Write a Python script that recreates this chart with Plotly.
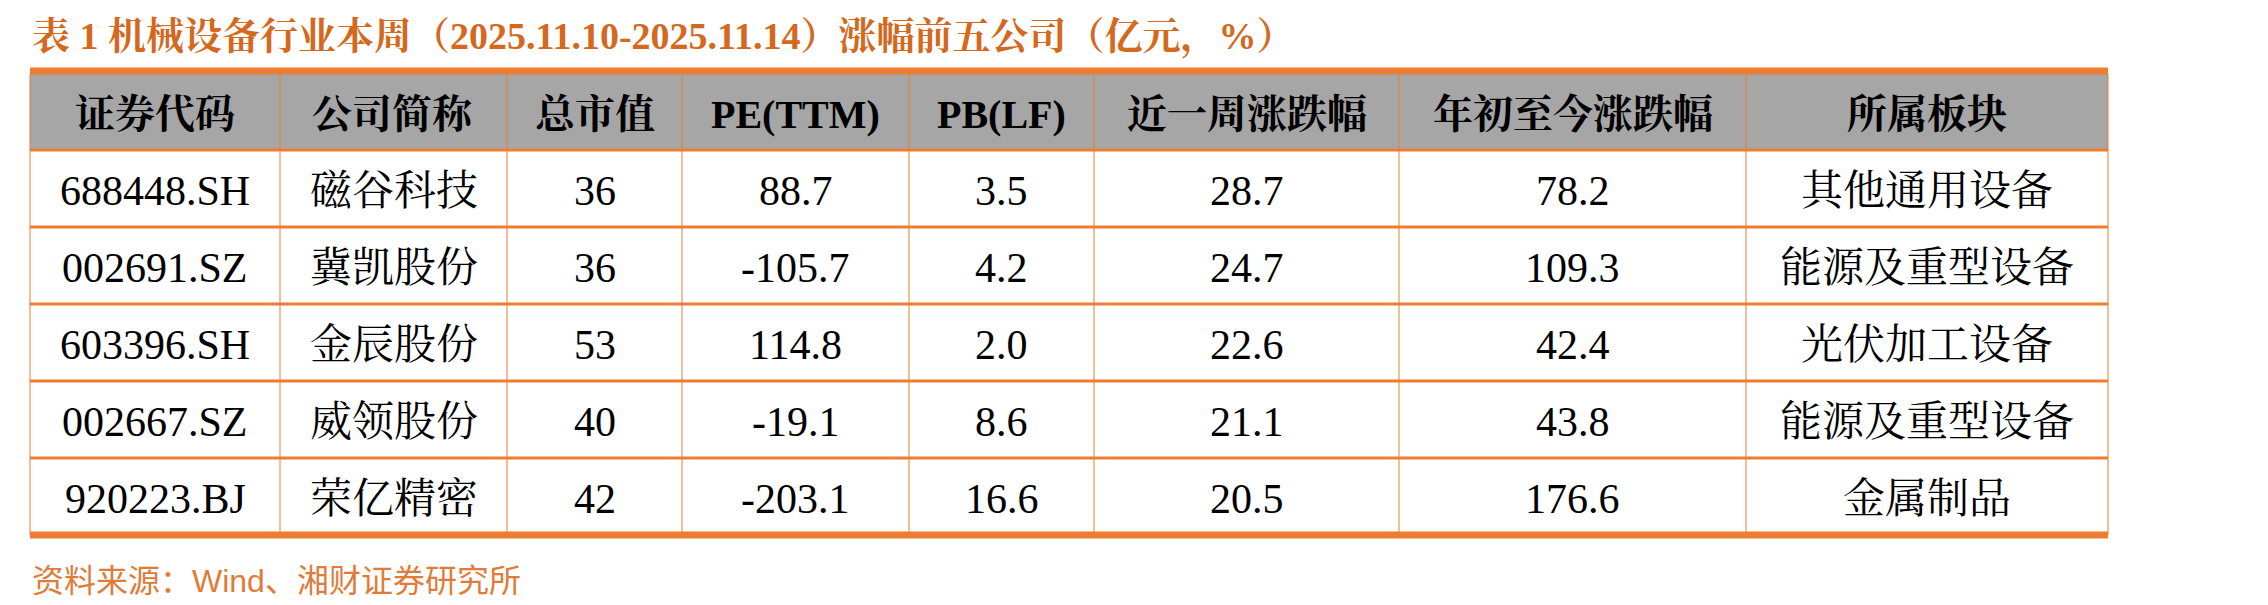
import plotly.graph_objects as go

W, H = 2268, 605
headers = ["证券代码", "公司简称", "总市值", "PE(TTM)", "PB(LF)", "近一周涨跌幅", "年初至今涨跌幅", "所属板块"]
codes = ["688448.SH", "002691.SZ", "603396.SH", "002667.SZ", "920223.BJ"]
names = ["磁谷科技", "冀凯股份", "金辰股份", "威领股份", "荣亿精密"]
mcap = ["36", "36", "53", "40", "42"]
pe = ["88.7", "-105.7", "114.8", "-19.1", "-203.1"]
pb = ["3.5", "4.2", "2.0", "8.6", "16.6"]
week = ["28.7", "24.7", "22.6", "21.1", "20.5"]
ytd = ["78.2", "109.3", "42.4", "43.8", "176.6"]
sector = ["其他通用设备", "能源及重型设备", "光伏加工设备", "能源及重型设备", "金属制品"]
columns = [codes, names, mcap, pe, pb, week, ytd, sector]

colx = [22, 272, 499, 674, 901, 1086, 1391, 1738, 2100]
ORANGE = "#ED7D31"
FONT = "Liberation Serif, Noto Serif CJK SC, Noto Sans CJK SC"
top, hb, rowh = 66, 142, 77
bottom = hb + 5 * rowh

fig = go.Figure()
fig.update_xaxes(range=[0, W], visible=False)
fig.update_yaxes(range=[H, 0], visible=False)

fig.add_shape(type="rect", x0=colx[0], x1=colx[-1], y0=top, y1=hb,
              fillcolor="#A6A6A6", line=dict(width=0), layer="below")
for x in colx:
    fig.add_shape(type="line", x0=x, x1=x, y0=top, y1=bottom, line=dict(color=ORANGE, width=1))

def hline(y, w):
    fig.add_shape(type="line", x0=colx[0], x1=colx[-1], y0=y, y1=y, line=dict(color=ORANGE, width=w))

hline(63, 7)
hline(hb, 3)
for i in range(1, 5):
    hline(hb + i * rowh, 3)
hline(bottom, 7)

for j, h in enumerate(headers):
    fig.add_annotation(x=(colx[j] + colx[j+1]) / 2, y=(top + hb) / 2 + 2, text=f"<b>{h}</b>",
                       showarrow=False, font=dict(family=FONT, size=40, color="black"))
    for i, v in enumerate(columns[j]):
        fig.add_annotation(x=(colx[j] + colx[j+1]) / 2, y=hb + (i + 0.5) * rowh + 2, text=v,
                           showarrow=False, font=dict(family=FONT, size=42, color="black"))

fig.add_annotation(text="<b>表 1 机械设备行业本周（2025.11.10-2025.11.14）涨幅前五公司（亿元，%）</b>",
                   x=22, y=29, xanchor="left", yanchor="middle", showarrow=False,
                   font=dict(family=FONT, size=38, color="#D4691E"))
fig.add_annotation(text="资料来源：Wind、湘财证券研究所", x=22, y=573, xanchor="left", yanchor="middle",
                   showarrow=False, font=dict(family="Liberation Sans, Noto Sans CJK SC", size=32, color="#E07B39"))

fig.update_layout(width=W, height=H, margin=dict(l=0, r=0, t=0, b=0),
                  paper_bgcolor="white", plot_bgcolor="white", showlegend=False)
fig.write_html("out.html")
